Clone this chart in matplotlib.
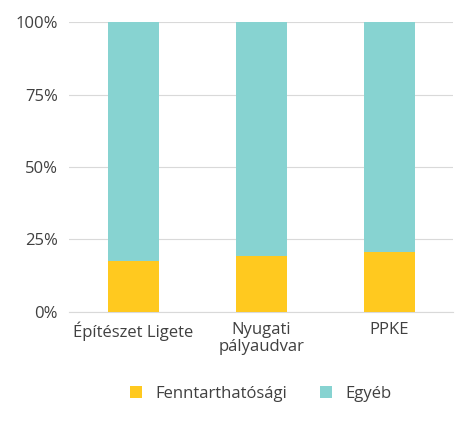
import matplotlib
matplotlib.use("Agg")
import matplotlib.pyplot as plt
from matplotlib.ticker import FuncFormatter

categories = ["Építészet Ligete", "Nyugati\npályaudvar", "PPKE"]
fenntarthato = [17.5, 19.3, 20.7]
egyeb = [100 - v for v in fenntarthato]

plt.rcParams['font.family'] = ['Open Sans', 'DejaVu Sans']
fig = plt.figure(figsize=(4.74, 4.25), dpi=100)
ax = fig.add_axes([0.146, 0.266, 0.81, 0.682])
x = range(len(categories))
ax.bar(x, fenntarthato, width=0.4, color="#FFC91F", label="Fenntarthatósági", zorder=3)
ax.bar(x, egyeb, width=0.4, bottom=fenntarthato, color="#87D3D1", label="Egyéb", zorder=3)
ax.set_xlim(-0.5, 2.5)
ax.set_ylim(0, 100)
ax.set_yticks([0, 25, 50, 75, 100])
ax.yaxis.set_major_formatter(FuncFormatter(lambda v, p: f"{int(v)}%"))
ax.grid(axis="y", color="#D9D9D9", linewidth=0.8, zorder=0)
for s in ["top", "right", "left"]:
    ax.spines[s].set_visible(False)
ax.spines["bottom"].set_color("#D9D9D9")
ax.tick_params(axis="both", length=0, colors="#404040", labelsize=12)
ax.tick_params(axis="y", pad=8)
ax.tick_params(axis="x", pad=7)
ax.set_xticks(list(x))
ax.set_xticklabels(categories, linespacing=1.1)
fig.legend(loc="lower center", bbox_to_anchor=(0.55, 0.02), ncol=2, frameon=False,
           fontsize=12, handlelength=0.7, handleheight=0.7, columnspacing=2.0,
           labelcolor="#404040")
fig.savefig("out.png", dpi=100)
